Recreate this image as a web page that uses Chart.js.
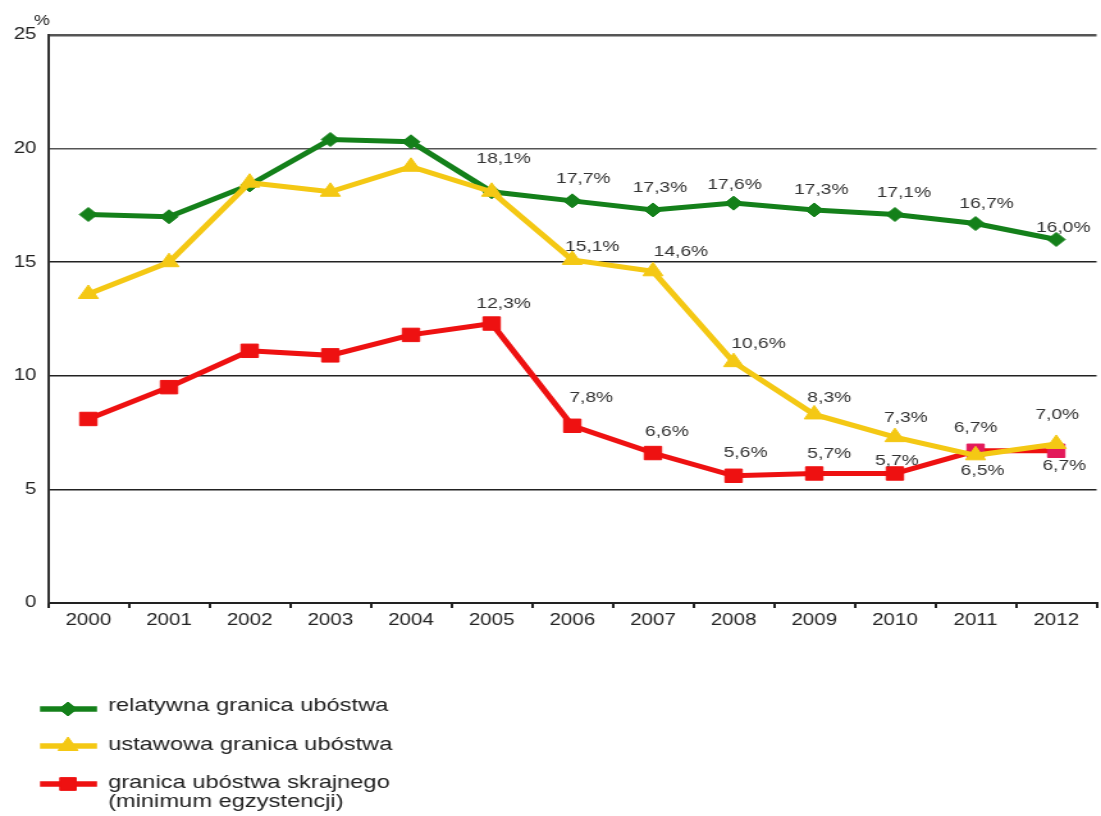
<!DOCTYPE html>
<html>
<head>
<meta charset="utf-8">
<script src="https://cdn.jsdelivr.net/npm/chart.js@4/dist/chart.umd.min.js"></script>
<style>
  html, body { margin:0; padding:0; background:#fff; overflow:hidden; }
  #c { display:block; }
</style>
</head>
<body>
<canvas id="c" width="867" height="816" style="width:1110px;height:816px"></canvas>
<script>
const years = ['2000','2001','2002','2003','2004','2005','2006','2007','2008','2009','2010','2011','2012'];
const relatywna = [17.1, 17.0, 18.4, 20.4, 20.3, 18.1, 17.7, 17.3, 17.6, 17.3, 17.1, 16.7, 16.0];
const ustawowa  = [13.6, 15.0, 18.5, 18.1, 19.2, 18.1, 15.1, 14.6, 10.6,  8.3,  7.3,  6.5,  7.0];
const skrajne   = [ 8.1,  9.5, 11.1, 10.9, 11.8, 12.3,  7.8,  6.6,  5.6,  5.7,  5.7,  6.7,  6.7];
const yTicks = [0, 5, 10, 15, 20, 25];

const seriesNames = ['relatywna granica ubóstwa', 'ustawowa granica ubóstwa', 'granica ubóstwa skrajnego', '(minimum egzystencji)'];

// the original picture is stretched sideways, so the canvas is drawn narrow and widened by css
const SX = 1.28;
const FONT = "'Liberation Sans', Arial, sans-serif";
const GREEN = '#14801a', YELLOW = '#f4c814', RED = '#ee1111', PINK = '#e3195a';

// label offsets from the point, in picture pixels (null = no label)
const offG = [null,null,null,null,null,[12,-33],[11,-22],[7,-22],[1,-18],[7,-20],[9,-22],[11,-20],[7,-12]];
const offY = [null,null,null,null,null,null,[20,-13],[28,-19],[25,-18],[15,-17],[11,-19],[7,16],[1,-29]];
const offR = [null,null,null,null,null,[12,-20],[19,-28],[14,-21],[12,-23],[15,-20],[2,-13],[0,-23],[8,15]];

const fmt = v => v.toFixed(1).replace('.', ',') + '%';

const labelsPlugin = {
  id: 'valueLabels',
  afterDatasetsDraw(chart){
    const ctx = chart.ctx;
    const offs = [offG, offY, offR];
    ctx.save();
    ctx.font = '15px ' + FONT;
    ctx.fillStyle = '#333';
    ctx.textAlign = 'center';
    ctx.textBaseline = 'middle';
    chart.data.datasets.forEach((ds, di) => {
      const meta = chart.getDatasetMeta(di);
      meta.data.forEach((pt, i) => {
        const o = offs[di][i];
        if (!o) return;
        ctx.fillText(fmt(ds.data[i]), pt.x + o[0] / SX, pt.y + o[1]);
      });
    });
    // unit above the axis
    ctx.font = '14px ' + FONT;
    ctx.fillStyle = '#222';
    ctx.fillText('%', 42 / SX, 21);
    ctx.restore();
  }
};

const legendPlugin = {
  id: 'bottomLegend',
  afterDraw(chart){
    const ctx = chart.ctx;
    const rows = [
      { color: GREEN,  style: 'rectRot',  r: 7, y: 709, text: [seriesNames[0]], base: [711] },
      { color: YELLOW, style: 'triangle', r: 9, y: 746, text: [seriesNames[1]], base: [750] },
      { color: RED,    style: 'rect',     r: 9, y: 784, text: [seriesNames[2], seriesNames[3]], base: [788, 807] },
    ];
    ctx.save();
    rows.forEach(row => {
      ctx.strokeStyle = row.color;
      ctx.fillStyle = row.color;
      ctx.lineWidth = 5.5;
      ctx.beginPath();
      ctx.moveTo(40 / SX, row.y);
      ctx.lineTo(97 / SX, row.y);
      ctx.stroke();
      ctx.lineWidth = 1;
      Chart.helpers.drawPoint(ctx, { pointStyle: row.style, radius: row.r, rotation: 0, borderWidth: 1 }, 68 / SX, row.y);
      ctx.fillStyle = '#222';
      ctx.font = '18.5px ' + FONT;
      ctx.textAlign = 'left';
      ctx.textBaseline = 'alphabetic';
      row.text.forEach((t, k) => ctx.fillText(t, 108 / SX, row.base[k]));
    });
    ctx.restore();
  }
};

new Chart(document.getElementById('c'), {
  type: 'line',
  data: {
    labels: years,
    datasets: [
      { label: seriesNames[0], data: relatywna, borderColor: GREEN, backgroundColor: GREEN,
        pointStyle: 'rectRot', pointRadius: 7, pointBorderWidth: 1, borderWidth: 5, order: 1 },
      { label: seriesNames[1], data: ustawowa, borderColor: YELLOW, backgroundColor: YELLOW,
        pointStyle: 'triangle', pointRadius: 9, pointBorderWidth: 1, borderWidth: 5, order: 0 },
      { label: seriesNames[2], data: skrajne, borderColor: RED,
        backgroundColor: years.map((y, i) => i >= 11 ? PINK : RED),
        pointBorderColor: years.map((y, i) => i >= 11 ? PINK : RED),
        pointStyle: 'rect', pointRadius: 9.5, pointBorderWidth: 1, borderWidth: 5, order: 2 },
    ]
  },
  options: {
    responsive: false,
    animation: false,
    devicePixelRatio: 1,
    layout: { padding: { top: 35, right: 3, bottom: 183, left: 0 } },
    plugins: { legend: { display: false }, tooltip: { enabled: false } },
    elements: { line: { tension: 0 } },
    scales: {
      x: {
        offset: true,
        grid: { offset: true, drawOnChartArea: false, drawTicks: true, tickLength: 5, color: '#222', lineWidth: 2 },
        border: { display: true, color: '#222', width: 2 },
        ticks: { color: '#222', font: { family: FONT, size: 16 }, padding: 3, maxRotation: 0, autoSkip: false },
        afterFit: s => { s.height = 30; }
      },
      y: {
        min: yTicks[0], max: yTicks[yTicks.length - 1],
        afterBuildTicks: s => { s.ticks = yTicks.map(v => ({ value: v })); },
        ticks: { color: '#222', font: { family: FONT, size: 16 }, padding: 9 },
        grid: {
          drawTicks: false,
          color: c => c.tick.value === 0 ? 'rgba(0,0,0,0)' : (c.tick.value >= 20 ? '#555' : '#222'),
          lineWidth: c => c.tick.value === 25 ? 2.5 : 1.5
        },
        border: { display: true, color: '#333', width: 2 },
        afterFit: s => { s.width = 37.5; }
      }
    }
  },
  plugins: [labelsPlugin, legendPlugin]
});
</script>
</body>
</html>
